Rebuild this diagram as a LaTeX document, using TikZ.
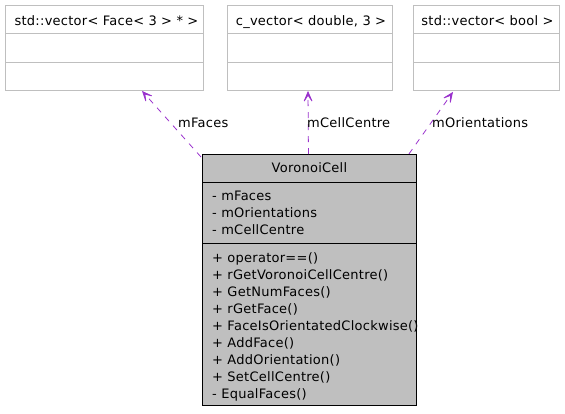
\documentclass[tikz,border=0pt]{standalone}
\usepackage{fontspec}
\setmainfont[LetterSpace=2]{DejaVu Sans}
\usetikzlibrary{arrows.meta,calc}
\definecolor{edgecol}{HTML}{9A32CD}
\definecolor{lightline}{HTML}{BFBFBF}
\definecolor{boxfill}{HTML}{BFBFBF}
\tikzset{
  lightbox/.style={draw=lightline, line width=0.9pt, fill=white, rectangle, anchor=north west, inner sep=0pt},
  mainbox/.style={draw=black, line width=0.9pt, fill=boxfill, rectangle, anchor=north west, inner sep=0pt},
  txt/.style={font=\fontsize{13}{16}\selectfont, inner sep=0pt, anchor=base west},
  ctxt/.style={font=\fontsize{13}{16}\selectfont, inner sep=0pt, anchor=base},
  edge/.style={draw=edgecol, line width=0.8pt, dash pattern=on 6pt off 6pt, -{Stealth[length=14pt,width=12pt,inset=9pt]}}
}
\begin{document}
\begin{tikzpicture}[x=1pt,y=-1pt]
\useasboundingbox (0,0) rectangle (565,413);
% top boxes
\node[lightbox, minimum width=198pt, minimum height=85pt] (faces) at (5,5) {};
\draw[lightline, line width=0.9pt] ($(faces.north west)+(0,28)$) -- ($(faces.north east)+(0,28)$);
\draw[lightline, line width=0.9pt] ($(faces.north west)+(0,57)$) -- ($(faces.north east)+(0,57)$);
\node[ctxt] (facesT) at ($(faces.north)+(2,20)$) {std::vector< Face< 3 > * >};

\node[lightbox, minimum width=165pt, minimum height=85pt] (cvec) at (227,5) {};
\draw[lightline, line width=0.9pt] ($(cvec.north west)+(0,28)$) -- ($(cvec.north east)+(0,28)$);
\draw[lightline, line width=0.9pt] ($(cvec.north west)+(0,57)$) -- ($(cvec.north east)+(0,57)$);
\node[ctxt] (cvecT) at ($(cvec.north)+(1,20)$) {c\_vector< double, 3 >};

\node[lightbox, minimum width=146pt, minimum height=85pt] (bvec) at (413,5) {};
\draw[lightline, line width=0.9pt] ($(bvec.north west)+(0,28)$) -- ($(bvec.north east)+(0,28)$);
\draw[lightline, line width=0.9pt] ($(bvec.north west)+(0,57)$) -- ($(bvec.north east)+(0,57)$);
\node[ctxt] (bvecT) at ($(bvec.north)+(1,20)$) {std::vector< bool >};

% main box
\node[mainbox, minimum width=214pt, minimum height=251pt] (main) at (202,154) {};
\draw[black, line width=0.9pt] ($(main.north west)+(0,28)$) -- ($(main.north east)+(0,28)$);
\draw[black, line width=0.9pt] ($(main.north west)+(0,89)$) -- ($(main.north east)+(0,89)$);
\node[ctxt] (title) at ($(main.north)+(0,18)$) {VoronoiCell};

\node[txt] (a1) at (212,200) {- mFaces};
\node[txt] (a2) at (212,217) {- mOrientations};
\node[txt] (a3) at (212,234) {- mCellCentre};

\node[txt] (o1) at (212,262) {+ operator==()};
\node[txt] (o2) at (212,279) {+ rGetVoronoiCellCentre()};
\node[txt] (o3) at (212,296) {+ GetNumFaces()};
\node[txt] (o4) at (212,313) {+ rGetFace()};
\node[txt] (o5) at (212,330) {+ FaceIsOrientatedClockwise()};
\node[txt] (o6) at (212,347) {+ AddFace()};
\node[txt] (o7) at (212,364) {+ AddOrientation()};
\node[txt] (o8) at (212,381) {+ SetCellCentre()};
\node[txt] (o9) at (212,398) {- EqualFaces()};

% edges
\draw[edge] ($(main.north west)+(-1,3)$) -- ($(faces.south west)+(137,0)$);
\draw[edge] ($(main.north)+(-1,0)$) -- ($(cvec.south west)+(81,0)$);
\draw[edge] ($(main.north east)+(-8,0)$) -- ($(bvec.south west)+(40,1)$);

\node[txt] (l1) at (178,127) {mFaces};
\node[txt] (l2) at (307,127) {mCellCentre};
\node[txt] (l3) at (432,127) {mOrientations};
\end{tikzpicture}
\end{document}
